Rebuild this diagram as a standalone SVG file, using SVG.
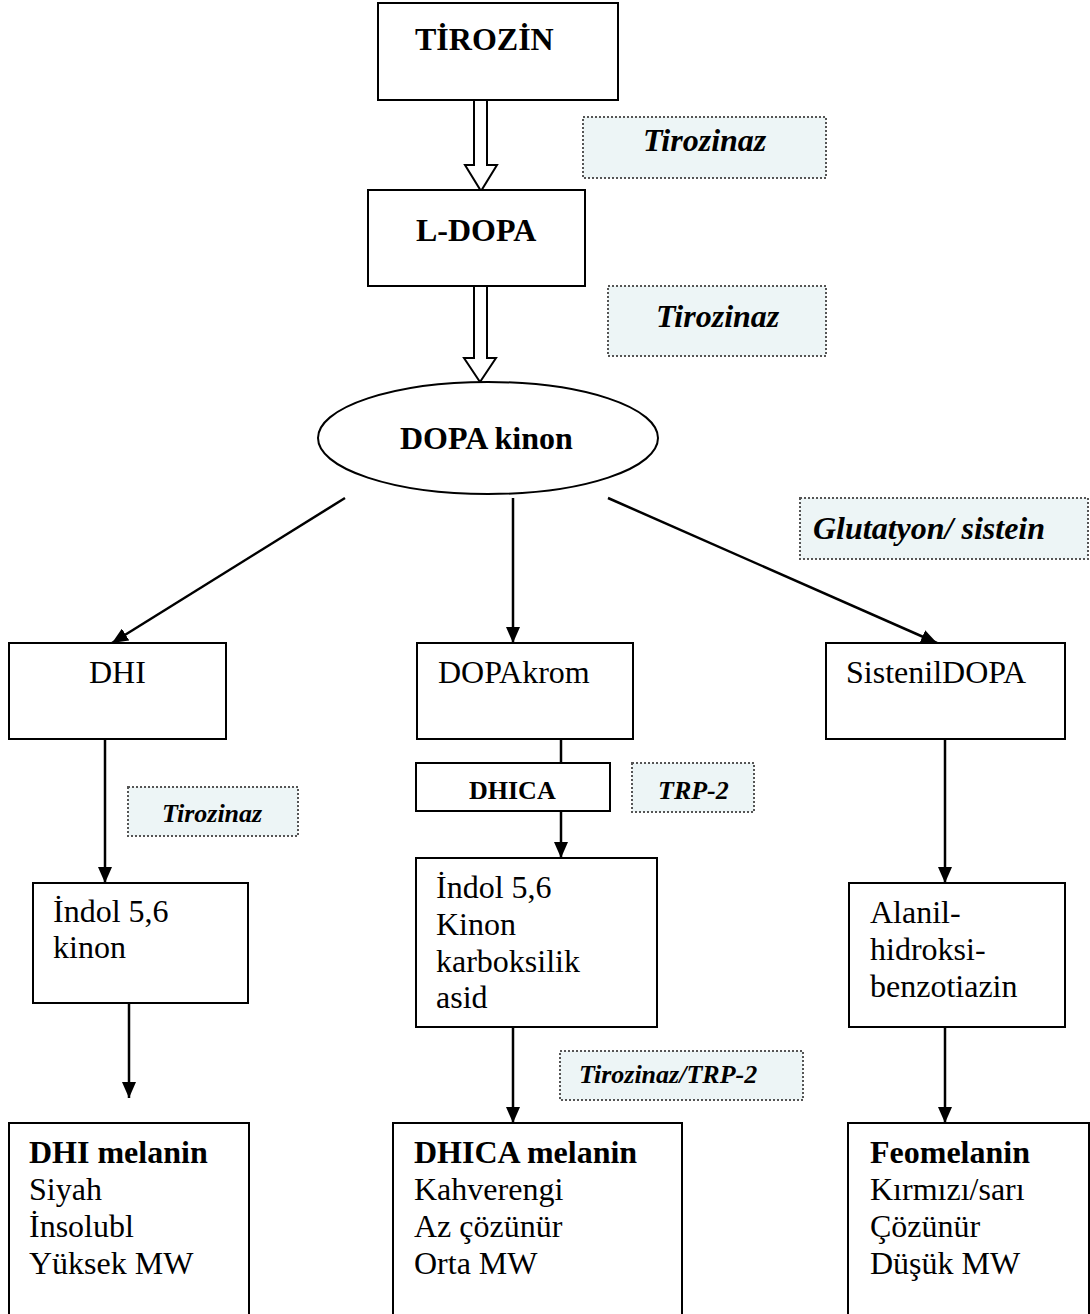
<svg xmlns="http://www.w3.org/2000/svg" width="1090" height="1314" viewBox="0 0 1090 1314">
<defs>
<marker id="ah" markerWidth="16" markerHeight="14" refX="16" refY="7" orient="auto" markerUnits="userSpaceOnUse">
<path d="M0,0 L16,7 L0,14 Z" fill="#000"/>
</marker>
<style>
.box{fill:#fff;stroke:#000;stroke-width:2}
.enz{fill:#EDF5F6;stroke:#555;stroke-width:2;stroke-dasharray:2,2}
text{font-family:'Liberation Serif','DejaVu Serif',serif;fill:#000;font-size:32px}
.b{font-weight:bold}
.i{font-style:italic;font-weight:bold}
.s{font-size:26px}
.ln{stroke:#000;stroke-width:2.5;fill:none}
.hollow{fill:#fff;stroke:#000;stroke-width:2}
</style>
</defs>
<rect width="1090" height="1314" fill="#fff"/>

<g id="connectors">
<polygon class="hollow" points="474,100 487,100 487,165 497,165 481,191 465,165 474,165"/>
<polygon class="hollow" points="474,286 487,286 487,358 496,358 480,382 464,358 474,358"/>
<line class="ln" x1="345" y1="498" x2="112" y2="643" marker-end="url(#ah)"/>
<line class="ln" x1="513" y1="498" x2="513" y2="643" marker-end="url(#ah)"/>
<line class="ln" x1="608" y1="498" x2="937" y2="643" marker-end="url(#ah)"/>
<line class="ln" x1="105" y1="739" x2="105" y2="883" marker-end="url(#ah)"/>
<line class="ln" x1="561" y1="739" x2="561" y2="858" marker-end="url(#ah)"/>
<line class="ln" x1="945" y1="739" x2="945" y2="883" marker-end="url(#ah)"/>
<line class="ln" x1="129" y1="1003" x2="129" y2="1098" marker-end="url(#ah)"/>
<line class="ln" x1="513" y1="1027" x2="513" y2="1123" marker-end="url(#ah)"/>
<line class="ln" x1="945" y1="1027" x2="945" y2="1123" marker-end="url(#ah)"/>
</g>

<g id="tirozin"><rect class="box" x="378" y="3" width="240" height="97"/><text class="b" x="415" y="50">TİROZİN</text></g>
<g id="enz1"><rect class="enz" x="583" y="117" width="243" height="61"/><text class="i" x="643" y="151">Tirozinaz</text></g>
<g id="ldopa"><rect class="box" x="368" y="190" width="217" height="96"/><text class="b" x="416" y="241">L-DOPA</text></g>
<g id="enz2"><rect class="enz" x="608" y="286" width="218" height="70"/><text class="i" x="656" y="327">Tirozinaz</text></g>
<g id="dopakinon"><ellipse class="box" cx="488" cy="438" rx="170" ry="56"/><text class="b" x="400" y="449">DOPA kinon</text></g>
<g id="enz3"><rect class="enz" x="800" y="498" width="288" height="61"/><text class="i" x="813" y="539">Glutatyon/ sistein</text></g>

<g id="dhi"><rect class="box" x="9" y="643" width="217" height="96"/><text x="89" y="683">DHI</text></g>
<g id="dopakrom"><rect class="box" x="417" y="643" width="216" height="96"/><text x="438" y="683">DOPAkrom</text></g>
<g id="sistenildopa"><rect class="box" x="826" y="643" width="239" height="96"/><text x="846" y="683">SistenilDOPA</text></g>

<g id="enz4"><rect class="enz" x="128" y="787" width="170" height="49"/><text class="i s" x="162" y="822">Tirozinaz</text></g>
<g id="dhica"><rect class="box" x="416" y="763" width="194" height="48"/><text class="b s" x="469" y="799">DHICA</text></g>
<g id="enz5"><rect class="enz" x="632" y="763" width="122" height="49"/><text class="i s" x="658" y="799">TRP-2</text></g>

<g id="indolkinon"><rect class="box" x="33" y="883" width="215" height="120"/>
<text x="53" y="922">İndol 5,6</text><text x="53" y="958">kinon</text></g>
<g id="indolasid"><rect class="box" x="416" y="858" width="241" height="169"/>
<text x="436" y="898">İndol 5,6</text><text x="436" y="935">Kinon</text><text x="436" y="972">karboksilik</text><text x="436" y="1008">asid</text></g>
<g id="alanil"><rect class="box" x="849" y="883" width="216" height="144"/>
<text x="870" y="923">Alanil-</text><text x="870" y="960">hidroksi-</text><text x="870" y="997">benzotiazin</text></g>
<g id="enz6"><rect class="enz" x="560" y="1051" width="243" height="49"/><text class="i s" x="579" y="1083">Tirozinaz/TRP-2</text></g>

<g id="dhimelanin"><rect class="box" x="9" y="1123" width="240" height="200"/>
<text class="b" x="29" y="1163">DHI melanin</text><text x="29" y="1200">Siyah</text><text x="29" y="1237">İnsolubl</text><text x="29" y="1274">Yüksek MW</text></g>
<g id="dhicamelanin"><rect class="box" x="393" y="1123" width="289" height="200"/>
<text class="b" x="414" y="1163">DHICA melanin</text><text x="414" y="1200">Kahverengi</text><text x="414" y="1237">Az çözünür</text><text x="414" y="1274">Orta MW</text></g>
<g id="feomelanin"><rect class="box" x="848" y="1123" width="241" height="200"/>
<text class="b" x="870" y="1163">Feomelanin</text><text x="870" y="1200">Kırmızı/sarı</text><text x="870" y="1237">Çözünür</text><text x="870" y="1274">Düşük MW</text></g>
</svg>
